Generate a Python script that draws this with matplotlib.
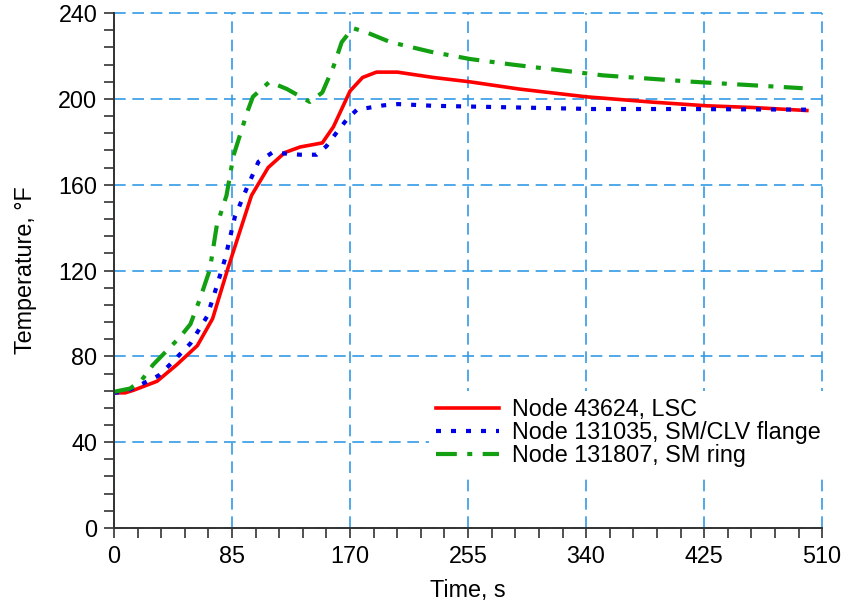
import matplotlib.pyplot as plt
from matplotlib.ticker import MultipleLocator

plt.rcParams["font.family"] = ["Liberation Sans", "DejaVu Sans"]

# Node 43624, LSC
t_lsc = [0, 8, 14, 31, 45, 60, 71, 82, 99, 111, 123, 134, 150, 158, 170, 179, 189,
         204, 230, 256, 292, 340, 388, 427, 460, 499]
T_lsc = [63, 63, 64.2, 68.4, 76, 85, 97.6, 121, 155, 168, 175, 177.6, 179.5, 187, 203.7,
         210, 212.5, 212.5, 210, 208, 204.6, 201, 198.5, 196.8, 196, 194.6]

# Node 131035, SM/CLV flange
t_flange = [0, 8, 21, 32, 40, 47.5, 55, 67, 73, 80, 87, 96, 104, 114, 134, 146, 153,
            160.6, 168, 175, 194, 204.6, 230, 292, 345, 412, 499]
T_flange = [63, 63.5, 67.4, 71, 76, 81, 86, 98.6, 110.7, 125.6, 145, 159, 170.7, 175,
            174, 174, 178, 184.6, 190.7, 195, 197, 197.6, 196.8, 196, 195.3, 195.3, 195]

# Node 131807, SM ring
t_ring = [0, 11.5, 20, 28, 40, 47.5, 55, 62, 69, 74, 81, 86, 96, 100, 112, 124.6, 141,
          150, 158, 164, 172, 182, 199, 228, 256.5, 287, 352, 417, 496]
T_ring = [63.5, 65, 69, 76, 84, 89, 95, 107, 120.5, 141, 155, 173.5, 194, 201, 208,
          204.6, 198.6, 203, 215, 226.5, 233, 231, 226.5, 222, 218.6, 216, 211, 208, 205]

fig = plt.figure(figsize=(8.46, 6.05), dpi=100)
ax = fig.add_axes([0.1348, 0.1273, 0.837, 0.851])

ax.plot(t_lsc, T_lsc, color="#ff0000", lw=2.6, label="Node 43624, LSC")
ax.plot(t_flange, T_flange, color="#0000e6", lw=3, linestyle=(0, (1.2, 2.4)),
        label="Node 131035, SM/CLV flange")
ax.plot(t_ring, T_ring, color="#12a012", lw=3, linestyle=(0, (5, 2.5, 1.2, 2.5)),
        label="Node 131807, SM ring")

ax.set_xlim(0, 510)
ax.set_ylim(0, 240)
ax.xaxis.set_major_locator(MultipleLocator(85))
ax.xaxis.set_minor_locator(MultipleLocator(17))
ax.yaxis.set_major_locator(MultipleLocator(40))
ax.yaxis.set_minor_locator(MultipleLocator(8))

ax.grid(True, which="major", color="#3399e6", linestyle=(0, (7, 4)), linewidth=1.2)
for gl in ax.get_xgridlines() + ax.get_ygridlines():
    gl.set_clip_on(False)
ax.set_axisbelow(True)

for side in ("top", "right"):
    ax.spines[side].set_visible(False)
for side in ("left", "bottom"):
    ax.spines[side].set_color("#333333")
    ax.spines[side].set_linewidth(1.4)

ax.tick_params(which="both", direction="out", length=7, width=1.2, color="#333333",
               labelsize=16.8, pad=5)

ax.set_xlabel("Time, s", fontsize=16.8, labelpad=8)
ax.set_ylabel("Temperature, °F", fontsize=16.8, labelpad=15)

leg = ax.legend(loc="lower right", bbox_to_anchor=(1.024, 0.082), fontsize=16.8, frameon=True,
                handlelength=2.7, handletextpad=0.55, labelspacing=0.0, borderpad=0.3)
leg.get_frame().set_edgecolor("none")
leg.get_frame().set_facecolor("white")
leg.get_frame().set_alpha(1)

fig.savefig("out.png", dpi=100)
